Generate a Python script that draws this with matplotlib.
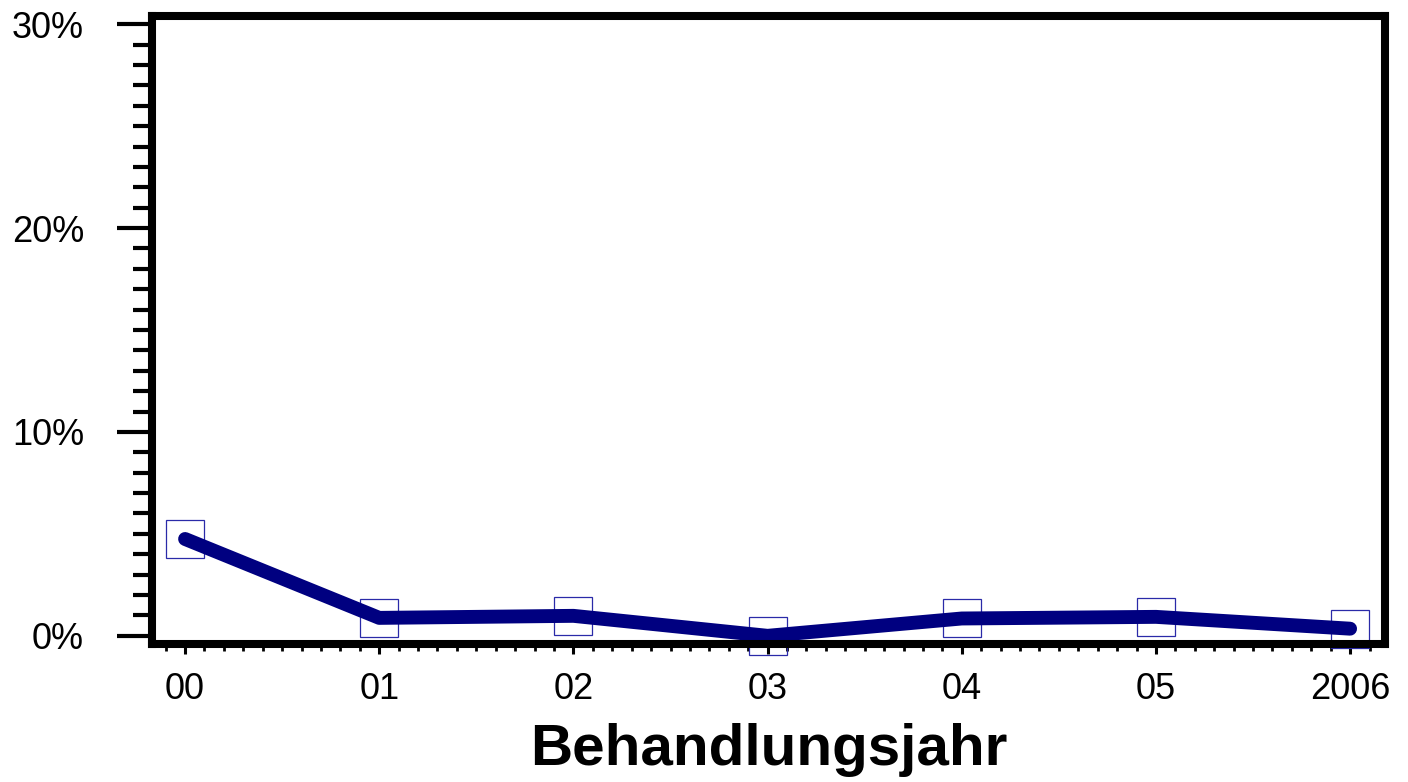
import numpy as np
import matplotlib
matplotlib.use("Agg")
import matplotlib.pyplot as plt
from matplotlib.ticker import MultipleLocator, FuncFormatter

plt.rcParams['font.family'] = ['Liberation Sans', 'DejaVu Sans']

years = ["00", "01", "02", "03", "04", "05", "2006"]
rate = [4.75, 0.88, 0.98, 0.0, 0.85, 0.93, 0.35]  # percent

x = np.arange(len(years))

fig = plt.figure(figsize=(14.08, 7.82), dpi=100)
ax = fig.add_axes([0.108, 0.1765, 0.8757, 0.803])

# hollow square markers underneath the thick line
ax.plot(x, rate, linestyle="none", marker="s", markersize=27.5,
        markerfacecolor="none", markeredgecolor="#2a2aa8",
        markeredgewidth=0.9, clip_on=False, zorder=2)
ax.plot(x, rate, color="#000080", linewidth=10, solid_capstyle="round",
        solid_joinstyle="round", zorder=3)

ax.set_xlim(-0.17, 6.18)
ax.set_ylim(-0.4, 30.4)

ax.set_xticks(x)
ax.set_xticklabels(years)
ax.xaxis.set_minor_locator(MultipleLocator(0.1))
ax.yaxis.set_major_locator(MultipleLocator(10))
ax.yaxis.set_minor_locator(MultipleLocator(1))
ax.yaxis.set_major_formatter(FuncFormatter(lambda v, p: f"{v:.0f}%"))

for s in ax.spines.values():
    s.set_linewidth(5.8)
    s.set_zorder(4)

ax.tick_params(axis="y", which="major", direction="out", length=25, width=3,
               pad=24, labelsize=26)
ax.tick_params(axis="y", which="minor", direction="out", length=14, width=3)
ax.tick_params(axis="x", which="major", direction="out", length=7, width=2.2,
               pad=13, labelsize=26)
ax.tick_params(axis="x", which="minor", direction="out", length=5, width=2)

ax.set_xlabel("Behandlungsjahr", fontsize=42, fontweight="bold", labelpad=12)

fig.savefig("out.png", dpi=100)
